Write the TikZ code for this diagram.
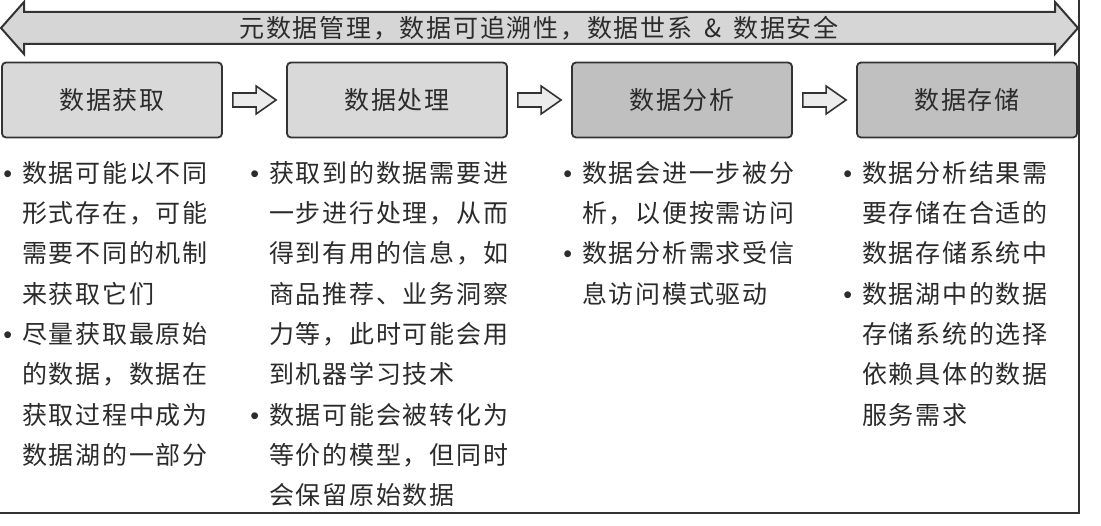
\documentclass[tikz,border=0pt]{standalone}
\usepackage{fontspec}
\newfontfamily\cjk[LetterSpace=7]{Noto Sans CJK SC}
\newfontfamily\bulletfont{Liberation Sans}
\usetikzlibrary{calc}
\definecolor{edgec}{HTML}{333333}
\definecolor{textc}{HTML}{2B2B2B}
\definecolor{bandfill}{HTML}{D6D6D6}
\definecolor{lightbox}{HTML}{D9D9D9}
\definecolor{darkbox}{HTML}{C0C0C0}
\definecolor{arrowfill}{HTML}{ECECEC}
\newcommand{\bul}{\llap{{\bulletfont •}\hspace{10pt}}}
\tikzset{
  stagebox/.style={draw=edgec, line width=1.8pt, rounded corners=4pt,
    minimum width=220pt, minimum height=75pt, inner sep=0pt,
    font=\cjk\fontsize{25}{28}\selectfont, text=textc},
  coltext/.style={anchor=north west, inner sep=0pt, align=left,
    font=\cjk\fontsize{25}{40.3}\selectfont, text=textc},
  blockarrow/.style={draw=edgec, line width=1.6pt, fill=arrowfill, line join=miter},
  frameline/.style={draw=edgec, line width=1.6pt}
}
\begin{document}
\begin{tikzpicture}[x=1pt,y=-1pt]
\useasboundingbox (0,0) rectangle (1101,526);
\fill[white] (0,0) rectangle (1101,526);

% top double arrow band
\draw[blockarrow, fill=bandfill, line width=2pt]
  (1,28) -- (24,2) -- (24,12) -- (1055,12) -- (1055,2) -- (1078,28)
  -- (1055,54) -- (1055,44) -- (24,44) -- (24,54) -- cycle;
\node[inner sep=0pt, font=\cjk\fontsize{25}{28}\selectfont, text=textc] (band) at (539,28)
  {元数据管理，数据可追溯性，数据世系\hspace{12pt}\&\hspace{12pt}数据安全};

% stage boxes
\node[stagebox, fill=lightbox] (b1) at (112,100) {数据获取};
\node[stagebox, fill=lightbox] (b2) at (397,100) {数据处理};
\node[stagebox, fill=darkbox]  (b3) at (682,100) {数据分析};
\node[stagebox, fill=darkbox]  (b4) at (967,100) {数据存储};

% block arrows between boxes
\foreach \a/\b in {b1/b2,b2/b3,b3/b4}{
  \draw[blockarrow]
    ($(\a.east)+(10,-7)$) -- ($(\b.west)+(-30,-7)$) -- ($(\b.west)+(-30,-14)$)
    -- ($(\b.west)+(-10,0)$) -- ($(\b.west)+(-30,14)$) -- ($(\b.west)+(-30,7)$)
    -- ($(\a.east)+(10,7)$) -- cycle;
}

% column texts
\node[coltext] (c1) at (22,161) {\bul 数据可能以不同\\形式存在，可能\\需要不同的机制\\来获取它们\\\bul 尽量获取最原始\\的数据，数据在\\获取过程中成为\\数据湖的一部分};
\node[coltext] (c2) at (269,161) {\bul 获取到的数据需要进\\一步进行处理，从而\\得到有用的信息，如\\商品推荐、业务洞察\\力等，此时可能会用\\到机器学习技术\\\bul 数据可能会被转化为\\等价的模型，但同时\\会保留原始数据};
\node[coltext] (c3) at (582,161) {\bul 数据会进一步被分\\析，以便按需访问\\\bul 数据分析需求受信\\息访问模式驱动};
\node[coltext] (c4) at (862,161) {\bul 数据分析结果需\\要存储在合适的\\数据存储系统中\\\bul 数据湖中的数据\\存储系统的选择\\依赖具体的数据\\服务需求};

% frame lines
\coordinate (ftop) at (1079,0);
\coordinate (fcorner) at (1079,513);
\coordinate (fleft) at (0,513);
\draw[frameline] (ftop) -- (fcorner) -- (fleft);
\end{tikzpicture}
\end{document}
